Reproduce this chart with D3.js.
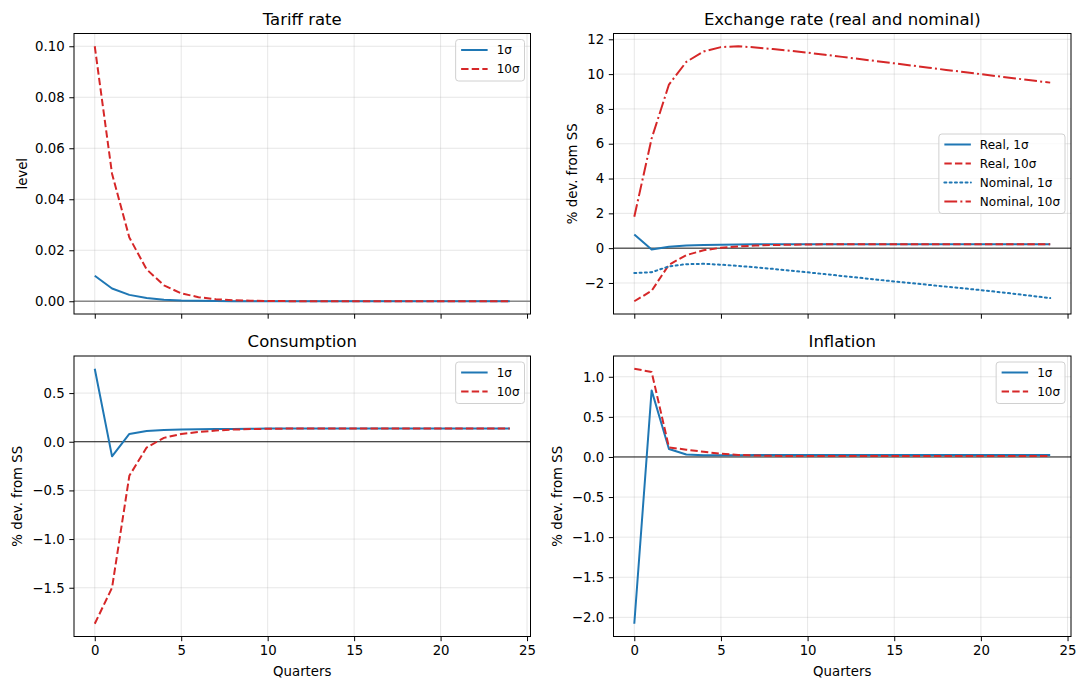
<!DOCTYPE html>
<html><head><meta charset="utf-8">
<script src="https://cdn.jsdelivr.net/npm/d3@7"></script>
<style>
body{margin:0;background:#fff}
svg{display:block}
text{font-family:"DejaVu Sans",sans-serif;fill:#000}
</style>
</head><body>
<svg id="c" width="1078" height="679"></svg>
<script>
// ---------------- data ----------------
const quarters = [0,1,2,3,4,5,6,7,8,9,10,11,12,13,14,15,16,17,18,19,20,21,22,23,24];

const tariff1  = [0.0100,0.0050,0.0025,0.00125,0.0006,0.0003,0.00016,0.00008,0.00004,0.00002,0.00001,0,0,0,0,0,0,0,0,0,0,0,0,0,0];
const tariff10 = [0.100,0.050,0.025,0.0125,0.00625,0.0031,0.0016,0.0008,0.0004,0.0002,0.0001,0.00005,0.00002,0.00001,0,0,0,0,0,0,0,0,0,0,0];

const realEx1  = [0.78,-0.08,0.08,0.15,0.18,0.20,0.21,0.22,0.22,0.22,0.22,0.22,0.22,0.22,0.22,0.22,0.22,0.22,0.22,0.22,0.22,0.22,0.22,0.22,0.22];
const realEx10 = [-3.05,-2.45,-0.95,-0.40,-0.12,0.02,0.10,0.15,0.18,0.20,0.21,0.22,0.22,0.22,0.22,0.22,0.22,0.22,0.22,0.22,0.22,0.22,0.22,0.22,0.22];
const nomEx1   = [-1.43,-1.38,-1.05,-0.92,-0.90,-0.95,-1.02,-1.10,-1.19,-1.29,-1.39,-1.49,-1.60,-1.70,-1.81,-1.91,-2.01,-2.11,-2.21,-2.31,-2.41,-2.52,-2.63,-2.75,-2.87];
const nomEx10  = [1.80,6.30,9.40,10.70,11.30,11.55,11.60,11.53,11.44,11.34,11.23,11.11,10.99,10.87,10.74,10.62,10.49,10.37,10.24,10.12,10.00,9.87,9.75,9.63,9.51];

const cons1  = [0.75,-0.15,0.08,0.11,0.12,0.125,0.128,0.13,0.132,0.134,0.135,0.135,0.135,0.135,0.135,0.135,0.135,0.135,0.135,0.135,0.135,0.135,0.135,0.135,0.135];
const cons10 = [-1.87,-1.50,-0.35,-0.06,0.04,0.08,0.10,0.115,0.125,0.13,0.133,0.135,0.135,0.135,0.135,0.135,0.135,0.135,0.135,0.135,0.135,0.135,0.135,0.135,0.135];

const infl1  = [-2.08,0.83,0.10,0.03,0.022,0.022,0.022,0.023,0.023,0.023,0.024,0.024,0.024,0.024,0.025,0.025,0.025,0.025,0.025,0.025,0.025,0.025,0.025,0.025,0.025];
const infl10 = [1.10,1.06,0.12,0.09,0.065,0.04,0.025,0.018,0.014,0.012,0.012,0.012,0.012,0.012,0.012,0.012,0.012,0.012,0.012,0.012,0.012,0.012,0.012,0.012,0.012];

const xTicks = [0,5,10,15,20,25];
const tariffTicks = [0.00,0.02,0.04,0.06,0.08,0.10];
const exTicks = [-2,0,2,4,6,8,10,12];
const consTicks = [-1.5,-1.0,-0.5,0.0,0.5];
const inflTicks = [-2.0,-1.5,-1.0,-0.5,0.0,0.5,1.0];

const titles = ["Tariff rate","Exchange rate (real and nominal)","Consumption","Inflation"];
const labels1 = ["1σ","10σ"];
const labelsEx = ["Real, 1σ","Real, 10σ","Nominal, 1σ","Nominal, 10σ"];

// ---------------- drawing ----------------
const BLUE = "#1f77b4", RED = "#d62728";
const DASH = "7.4,3.2", DOT = "2,3.3", DASHDOT = "12.8,3.2,2,3.2";
const svg = d3.select("#c");

const panels = [
  {title:titles[0], ylabel:"level", ylx:22, L:74, R:530.5, T:33.5, B:314, ticks:tariffTicks, fmt:d3.format(".2f"),
   zero:"#888", showX:false, legend:"ur",
   series:[{d:tariff1,c:BLUE,dash:null,l:labels1[0]},{d:tariff10,c:RED,dash:DASH,l:labels1[1]}]},
  {title:titles[1], ylabel:"% dev. from SS", ylx:572, L:613.5, R:1071, T:33.5, B:314, ticks:exTicks, fmt:d3.format("d"),
   zero:"#000", showX:false, legend:"cr",
   series:[{d:realEx1,c:BLUE,dash:null,l:labelsEx[0]},{d:realEx10,c:RED,dash:DASH,l:labelsEx[1]},
           {d:nomEx1,c:BLUE,dash:DOT,l:labelsEx[2]},{d:nomEx10,c:RED,dash:DASHDOT,l:labelsEx[3]}]},
  {title:titles[2], ylabel:"% dev. from SS", ylx:17, L:74, R:530.5, T:356, B:636.5, ticks:consTicks, fmt:d3.format(".1f"),
   zero:"#000", showX:true, legend:"ur",
   series:[{d:cons1,c:BLUE,dash:null,l:labels1[0]},{d:cons10,c:RED,dash:DASH,l:labels1[1]}]},
  {title:titles[3], ylabel:"% dev. from SS", ylx:557, L:613.5, R:1071, T:356, B:636.5, ticks:inflTicks, fmt:d3.format(".1f"),
   zero:"#000", showX:true, legend:"ur",
   series:[{d:infl1,c:BLUE,dash:null,l:labels1[0]},{d:infl10,c:RED,dash:DASH,l:labels1[1]}]}
];

panels.forEach((p, pi) => {
  const x = d3.scaleLinear().domain([-1.2, 25.2]).range([p.L, p.R]);
  const all = p.series.flatMap(s => s.d);
  const mn = d3.min(all), mx = d3.max(all), m = (mx - mn) * 0.05;
  const y = d3.scaleLinear().domain([mn - m, mx + m]).range([p.B, p.T]);
  const g = svg.append("g");

  // grid
  g.append("g").selectAll("line").data(xTicks).join("line")
    .attr("x1", d => x(d)).attr("x2", d => x(d)).attr("y1", p.T).attr("y2", p.B)
    .attr("stroke", "#b0b0b0").attr("stroke-opacity", 0.3).attr("stroke-width", 1);
  g.append("g").selectAll("line").data(p.ticks).join("line")
    .attr("x1", p.L).attr("x2", p.R).attr("y1", d => y(d)).attr("y2", d => y(d))
    .attr("stroke", "#b0b0b0").attr("stroke-opacity", 0.3).attr("stroke-width", 1);

  // zero line
  g.append("line").attr("x1", p.L).attr("x2", p.R).attr("y1", y(0)).attr("y2", y(0))
    .attr("stroke", p.zero).attr("stroke-width", p.zero === "#000" ? 0.9 : 1.3);

  // series
  const clipId = "clip" + pi;
  svg.append("clipPath").attr("id", clipId).append("rect")
    .attr("x", p.L).attr("y", p.T).attr("width", p.R - p.L).attr("height", p.B - p.T);
  const line = d3.line().x((d, i) => x(quarters[i])).y(d => y(d));
  p.series.forEach(s => {
    g.append("path").attr("d", line(s.d)).attr("fill", "none")
      .attr("stroke", s.c).attr("stroke-width", 2)
      .attr("stroke-dasharray", s.dash)
      .attr("stroke-linecap", s.dash === DOT ? "round" : "butt")
      .attr("stroke-linejoin", "round")
      .attr("clip-path", "url(#" + clipId + ")");
  });

  // axes
  const ax = g.append("g").attr("transform", `translate(0,${p.B})`)
    .call(d3.axisBottom(x).tickValues(xTicks).tickSize(4.7).tickPadding(4.7)
      .tickFormat(p.showX ? d3.format("d") : () => ""));
  const ay = g.append("g").attr("transform", `translate(${p.L},0)`)
    .call(d3.axisLeft(y).tickValues(p.ticks).tickSize(4.7).tickPadding(4.7).tickFormat(p.fmt));
  [ax, ay].forEach(a => {
    a.select(".domain").remove();
    a.selectAll(".tick line").attr("stroke", "#000").attr("stroke-width", 1);
    a.selectAll(".tick text").attr("font-size", 13.3).attr("font-family", "DejaVu Sans").attr("fill", "#000");
  });
  ax.selectAll(".tick text").attr("dy", "0.71em");

  // frame
  g.append("rect").attr("x", p.L).attr("y", p.T).attr("width", p.R - p.L).attr("height", p.B - p.T)
    .attr("fill", "none").attr("stroke", "#000").attr("stroke-width", 1);

  // title
  g.append("text").attr("x", (p.L + p.R) / 2).attr("y", p.T - 9).attr("text-anchor", "middle")
    .attr("font-size", 16.5).text(p.title);
  // y label
  g.append("text").attr("transform", `translate(${p.ylx},${(p.T + p.B) / 2}) rotate(-90)`)
    .attr("text-anchor", "middle").attr("dy", "0.35em").attr("font-size", 13.3).text(p.ylabel);
  // x label
  if (p.showX) {
    g.append("text").attr("x", (p.L + p.R) / 2).attr("y", 676).attr("text-anchor", "middle")
      .attr("font-size", 13.3).text("Quarters");
  }

  // legend
  const lg = g.append("g");
  const n = p.series.length;
  const tmp = lg.append("g");
  const widths = p.series.map(s => {
    const tt = tmp.append("text").attr("font-size", 12).text(s.l);
    const w = tt.node().getComputedTextLength(); tt.remove(); return w;
  });
  tmp.remove();
  const bw = 5 + 27 + 9 + d3.max(widths) + 5;
  const bh = 10.5 + 19 * (n - 1) + 12;
  const bx = p.R - 6 - bw;
  const by = p.legend === "ur" ? p.T + 6 : (p.T + p.B) / 2 - bh / 2;
  lg.append("rect").attr("x", bx).attr("y", by).attr("width", bw).attr("height", bh)
    .attr("rx", 3).attr("fill", "#fff").attr("fill-opacity", 0.8)
    .attr("stroke", "#d0d0d0").attr("stroke-width", 1);
  p.series.forEach((s, i) => {
    const cy = by + 10.5 + 19 * i;
    lg.append("line").attr("x1", bx + 5.5).attr("x2", bx + 32).attr("y1", cy).attr("y2", cy)
      .attr("stroke", s.c).attr("stroke-width", 2).attr("stroke-dasharray", s.dash)
      .attr("stroke-linecap", s.dash === DOT ? "round" : "butt");
    lg.append("text").attr("x", bx + 41).attr("y", cy).attr("dy", "0.36em")
      .attr("font-size", 12).text(s.l);
  });
});
</script>
</body></html>
